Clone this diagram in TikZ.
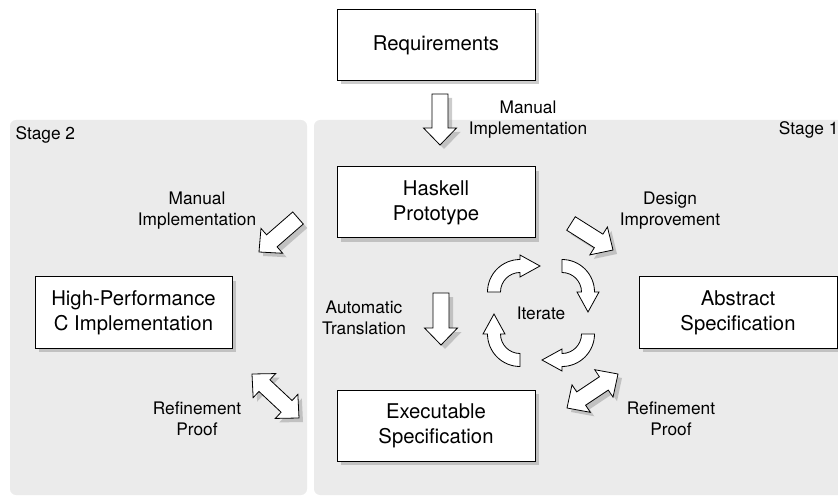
\documentclass[tikz,border=0pt]{standalone}
\usepackage{fontspec}
\setmainfont{TeX Gyre Heros}
\usetikzlibrary{calc,shadows}
\definecolor{panelgray}{RGB}{235,235,235}

% block arrow from tail (#1) to tip (#2)
\newcommand\blockarrow[2]{%
	\path ($(#2)!17pt!(#1)$) coordinate (bm);
	\filldraw[arrowbody] ($(#1)!8pt!90:(#2)$) -- ($(bm)!8pt!90:(#2)$) -- ($(bm)!16.5pt!90:(#2)$) -- (#2)
		-- ($(bm)!16.5pt!-90:(#2)$) -- ($(bm)!8pt!-90:(#2)$) -- ($(#1)!8pt!-90:(#2)$) -- cycle;
}
% block arrow with two tips
\newcommand\doublearrow[2]{%
	\path ($(#1)!17pt!(#2)$) coordinate (dma) ($(#2)!17pt!(#1)$) coordinate (dmb);
	\filldraw[arrowbody] (#1) -- ($(dma)!16.5pt!90:(#2)$) -- ($(dma)!8pt!90:(#2)$) -- ($(dmb)!8pt!-90:(#1)$) -- ($(dmb)!16.5pt!-90:(#1)$) -- (#2)
		-- ($(dmb)!16.5pt!90:(#1)$) -- ($(dmb)!8pt!90:(#1)$) -- ($(dma)!8pt!-90:(#2)$) -- ($(dma)!16.5pt!-90:(#2)$) -- cycle;
}
% quarter arc arrow, centre and start angle, turning clockwise
\newcommand\cyclearrow[2]{%
	\pgfmathsetmacro\cyend{#2-90}
	\pgfmathsetmacro\cytip{#2-180}
	\filldraw[cyclebody] ($(#1)+(#2:32.5)$) arc[start angle=#2, end angle=\cyend, radius=32.5]
		-- ($(#1)+(\cyend:37)$) -- ($(#1)+(\cyend:26)+(\cytip:20)$) -- ($(#1)+(\cyend:15)$)
		-- ($(#1)+(\cyend:19.5)$) arc[start angle=\cyend, end angle=#2, radius=19.5] -- cycle;
}

\begin{document}
\begin{tikzpicture}[x=1pt, y=1pt,
		box/.style={draw, fill=white, line width=1pt, minimum width=198pt, minimum height=71pt, align=center,
			font=\fontsize{20.3}{25}\selectfont,
			drop shadow={shadow xshift=4pt, shadow yshift=-4pt, fill=black!40, opacity=.5}},
		lbl/.style={align=center, font=\fontsize{17.3}{21}\selectfont},
		arrowbody/.style={draw, fill=white, line width=.8pt,
			drop shadow={shadow xshift=4pt, shadow yshift=-4pt, fill=black!40, opacity=.5}},
		cyclebody/.style={draw, fill=white, line width=.8pt}]
	\useasboundingbox (0,0) rectangle (838,496);
	% stages
	\fill[panelgray, rounded corners=6pt] (10,1) rectangle (307,376);
	\fill[panelgray, rounded corners=6pt] (314,1) rectangle (850,376);
	\node[lbl, anchor=west] (stage2) at (12,361) {Stage 2};
	\node[lbl, anchor=east] (stage1) at (842,366) {Stage 1};

	% boxes
	\node[box] (req) at (436,451) {Requirements};
	\node[box] (haskell) at (436,293.5) {Haskell\\Prototype};
	\node[box] (exec) at (436,70.5) {Executable\\Specification};
	\node[box, minimum width=197pt] (cimpl) at (133.5,183.5) {High-Performance\\C Implementation};
	\node[box] (abstract) at (738,183.5) {Abstract\\Specification};

	% labels
	\node[lbl] (manualA) at (528,376) {Manual\\Implementation};
	\node[lbl] (manualB) at (197,285) {Manual\\Implementation};
	\node[lbl] (design) at (670,285) {Design\\Improvement};
	\node[lbl] (auto) at (364,178) {Automatic\\Translation};
	\node[lbl] (iterate) at (541,183) {Iterate};
	\node[lbl] (refineA) at (197,77) {Refinement\\Proof};
	\node[lbl] (refineB) at (671,77) {Refinement\\Proof};

	% arrow ends
	\coordinate (reqT) at (440,402);
	\coordinate (reqH) at (440,351);
	\coordinate (manT) at (298,278);
	\coordinate (manH) at (259,244);
	\coordinate (desT) at (571,272.5);
	\coordinate (desH) at (613,246);
	\coordinate (autoT) at (441,203);
	\coordinate (autoH) at (441,151);
	\coordinate (refAa) at (252,122);
	\coordinate (refAb) at (299,78);
	\coordinate (refBa) at (567,88);
	\coordinate (refBb) at (618,122);

	\blockarrow{reqT}{reqH}
	\blockarrow{manT}{manH}
	\blockarrow{desT}{desH}
	\blockarrow{autoT}{autoH}
	\doublearrow{refAa}{refAb}
	\doublearrow{refBa}{refBb}

	% iterate cycle
	\coordinate (cyA) at ($(iterate)+(-21,21)$);
	\coordinate (cyB) at ($(iterate)+(21,21)$);
	\coordinate (cyC) at ($(iterate)+(21,-21)$);
	\coordinate (cyD) at ($(iterate)+(-21,-21)$);
	\cyclearrow{cyA}{180}
	\cyclearrow{cyB}{90}
	\cyclearrow{cyC}{0}
	\cyclearrow{cyD}{-90}
\end{tikzpicture}
\end{document}
